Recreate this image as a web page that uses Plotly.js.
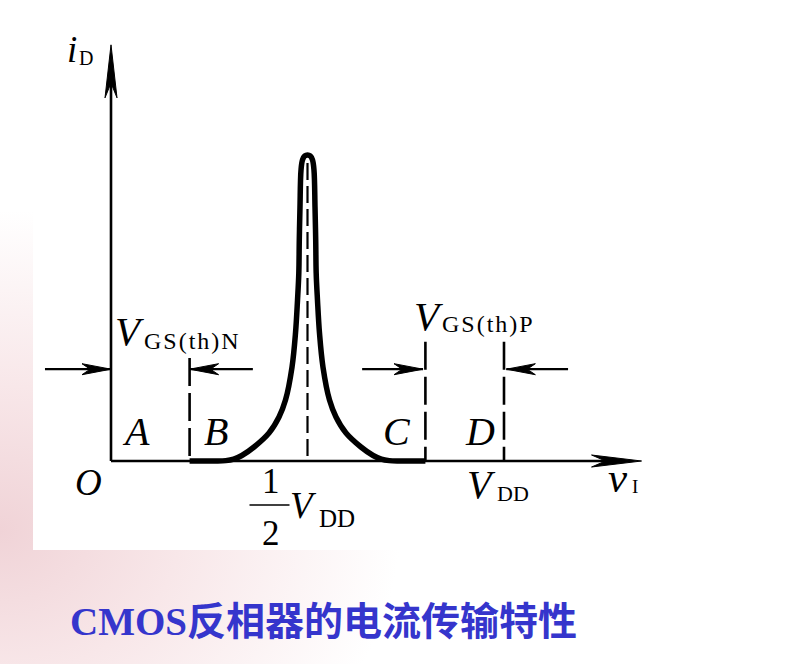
<!DOCTYPE html>
<html>
<head>
<meta charset="utf-8">
<script src="https://cdn.plot.ly/plotly-3.0.1.min.js"></script>
<style>
  html, body { margin: 0; padding: 0; }
  body {
    width: 787px; height: 664px; overflow: hidden;
    background: radial-gradient(ellipse 400px 320px at 0px 530px, #f0d3d7 0%, #f8e7e9 45%, #ffffff 100%);
  }
  #chart { width: 787px; height: 664px; }
</style>
</head>
<body>
<div id="chart"></div>
<script>
// ---------------- data ----------------
const VDD = 10;                 // supply voltage (x units)
const VthN = 2;                 // V_GS(th)N
const VthP = 2;                 // |V_GS(th)P|

// drain current curve i_D(v_I)
const vI = [2.00, 2.65, 2.92, 3.12, 3.33, 3.64, 4.02, 4.275, 4.44, 4.606, 4.695, 4.746, 4.779, 4.791, 4.809, 4.835, 4.873, 4.93, 5.00,
            5.07, 5.127, 5.165, 5.191, 5.209, 5.221, 5.254, 5.305, 5.394, 5.56, 5.725, 5.98, 6.36, 6.67, 6.88, 7.08, 7.35, 8.00];
const iD = [0, 0, 0.012, 0.06, 0.18, 0.458, 0.915, 1.44, 1.99, 3.07, 4.18, 5.26, 6.14, 7.22, 8.30, 9.51, 9.84, 9.97, 10.0,
            9.97, 9.84, 9.51, 8.30, 7.22, 6.14, 5.26, 4.18, 3.07, 1.99, 1.44, 0.915, 0.458, 0.18, 0.06, 0.012, 0, 0];

// dashed marker lines
const markerV   = [VthN, VDD - VthP, VDD];
const markerTop = [3.37, 3.9, 3.9];
const centerLineTop = 9.74;

// dimension arrows (tail -> tip) at a common level
const arrowLevel = 3.0;
const arrowTail = [-1.68, 3.61, 6.39, 11.63];
const arrowTip  = [0, VthN, VDD - VthP - 0.06, VDD + 0.06];

// region labels
const regionNames = ['A', 'B', 'C', 'D'];
const regionX = [0.64, 2.67, 7.28, 9.39];
const regionY = 0.96;

// axis extents
const xAxisEnd = 13.5;
const yAxisEnd = 13.6;

// ---------------- geometry of the drawing ----------------
const W = 787, H = 664;
const X0 = 111, Y0 = 461;       // pixel of origin
const SX = 39.3, SY = 30.6;     // px per unit
const px2x = p => (p - X0) / SX;
const py2y = p => (Y0 - p) / SY;
const x2px = x => X0 + x * SX;
const y2py = y => Y0 - y * SY;

function headPoly(tx, ty, ux, uy, len, hw) {
  const tpx = x2px(tx), tpy = y2py(ty);
  const nx = -uy, ny = ux;
  const pts = [
    [tpx, tpy],
    [tpx - ux * len + nx * hw, tpy - uy * len + ny * hw],
    [tpx - ux * len * 0.72, tpy - uy * len * 0.72],
    [tpx - ux * len - nx * hw, tpy - uy * len - ny * hw],
    [tpx, tpy]
  ];
  return { x: pts.map(p => px2x(p[0])), y: pts.map(p => py2y(p[1])) };
}

const black = '#000000';
const traces = [];

// axes
traces.push({ x: [0, xAxisEnd - 0.6], y: [0, 0], mode: 'lines', line: { color: black, width: 2.4 }, hoverinfo: 'skip' });
traces.push({ x: [0, 0], y: [0, yAxisEnd - 0.6], mode: 'lines', line: { color: black, width: 2.6 }, hoverinfo: 'skip' });

// marker dashed lines
markerV.forEach((v, i) => {
  traces.push({ x: [v, v], y: [markerTop[i], 0], mode: 'lines',
    line: { color: black, width: 2.6, dash: '28px,7px' }, hoverinfo: 'skip' });
});

// curve
traces.push({ x: vI, y: iD, mode: 'lines', line: { color: black, width: 5.5, shape: 'spline', smoothing: 1 }, hoverinfo: 'skip' });

// center dashed line at VDD/2
traces.push({ x: [VDD / 2, VDD / 2], y: [centerLineTop, 0], mode: 'lines',
  line: { color: black, width: 2.2, dash: '17px,6px' }, hoverinfo: 'skip' });

// dimension arrow shafts
const sx = [], sy = [];
arrowTail.forEach((t, i) => { sx.push(t, arrowTip[i], null); sy.push(arrowLevel, arrowLevel, null); });
traces.push({ x: sx, y: sy, mode: 'lines', line: { color: black, width: 2.2 }, hoverinfo: 'skip', connectgaps: false });

// arrow heads
const hx = [], hy = [];
function addHead(h) { hx.push(...h.x, null); hy.push(...h.y, null); }
addHead(headPoly(xAxisEnd, 0, 1, 0, 50, 6));
addHead(headPoly(0, yAxisEnd, 0, -1, 53, 6));
arrowTail.forEach((t, i) => {
  const d = Math.sign(arrowTip[i] - t);
  addHead(headPoly(arrowTip[i], arrowLevel, d, 0, 29, 5.5));
});
traces.push({ x: hx, y: hy, mode: 'lines', fill: 'toself', fillcolor: black,
  line: { color: black, width: 1 }, hoverinfo: 'skip', connectgaps: false });

// ---------------- text ----------------
const serif = 'Liberation Serif, Times New Roman, serif';
const HS = '\u200A'; // hair space (for the letter-spaced subscripts)
function txt(text, pxX, pyY, size, italic, xanchor = 'left') {
  return { text, x: px2x(pxX), y: py2y(pyY), xref: 'x', yref: 'y', showarrow: false,
    xanchor, yanchor: 'middle',
    font: { family: serif, size, color: black, style: italic ? 'italic' : 'normal' } };
}
const spaced = s => s.split('').join(HS);

const annotations = [
  // i_D
  txt('i', 65, 49, 37, true),
  txt('D', 77, 58, 20, false),
  // V_GS(th)N
  txt('V', 113, 331, 41, true),
  txt(spaced('GS(th)N'), 142, 341, 24, false),
  // V_GS(th)P
  txt('V', 412, 316, 41, true),
  txt(spaced('GS(th)P'), 440, 324, 24, false),
  // origin
  txt('O', 88, 482, 37, true, 'center'),
  // 1/2 V_DD
  txt('1', 271, 481, 35, false, 'center'),
  txt('2', 271, 533, 35, false, 'center'),
  txt('V', 288, 505, 37, true),
  txt('DD', 317, 518, 25, false),
  // V_DD
  txt('V', 465, 484, 40, true),
  txt('DD', 495, 493, 22, false),
  // v_I
  txt('v', 606, 477, 43, true),
  txt('I', 630, 486, 19, false),
];
regionNames.forEach((n, i) => annotations.push({
  text: n, x: regionX[i], y: regionY, xref: 'x', yref: 'y', showarrow: false,
  xanchor: 'center', yanchor: 'middle',
  font: { family: serif, size: 40, color: black, style: 'italic' } }));

const shapes = [
  // white drawing panel
  { type: 'rect', xref: 'paper', yref: 'paper', x0: 33 / W, x1: 1, y0: 1 - 550 / H, y1: 1,
    fillcolor: '#ffffff', line: { width: 0 }, layer: 'below' },
  // fraction bar of 1/2 VDD
  { type: 'line', xref: 'x', yref: 'y', xsizemode: 'pixel', ysizemode: 'pixel',
    xanchor: VDD / 2, yanchor: 0, x0: -58, x1: -18, y0: -44, y1: -44,
    line: { color: black, width: 1.6 } }
];

const layout = {
  width: W, height: H, autosize: false,
  margin: { l: 0, r: 0, t: 0, b: 0, pad: 0 },
  paper_bgcolor: 'rgba(0,0,0,0)', plot_bgcolor: 'rgba(0,0,0,0)',
  showlegend: false,
  xaxis: { range: [px2x(0), px2x(W)], visible: false, fixedrange: true },
  yaxis: { range: [py2y(H), py2y(0)], visible: false, fixedrange: true },
  title: {
    text: 'CMOS反相器的电流传输特性',
    x: 70 / W, xanchor: 'left', xref: 'container',
    y: 1 - 621 / H, yanchor: 'middle', yref: 'container',
    font: { family: "Liberation Serif, 'Noto Sans CJK SC', serif", size: 39, color: '#3535cc', weight: 'bold' }
  },
  annotations, shapes
};

Plotly.newPlot('chart', traces, layout, { displayModeBar: false, staticPlot: true });
</script>
</body>
</html>
